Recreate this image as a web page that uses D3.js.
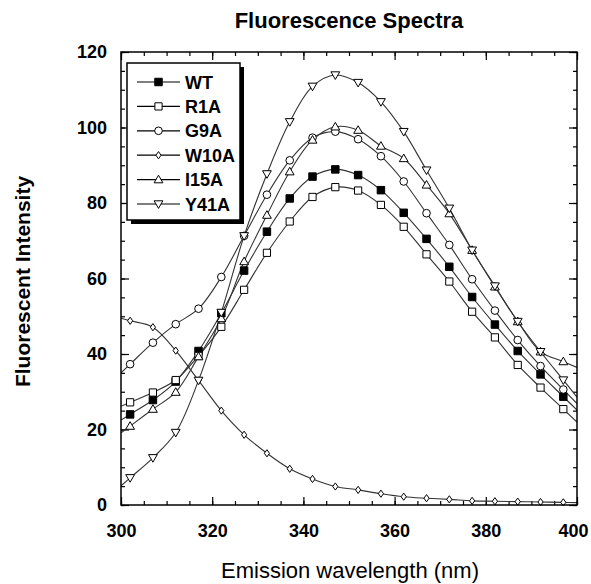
<!DOCTYPE html>
<html lang="en">
<head>
    <meta charset="UTF-8">
    <title>Fluorescence Spectra</title>
    <script src="https://d3js.org/d3.v7.min.js"></script>
    <style>
        body { margin: 0; background: #fff; }
        text { font-family: "Liberation Sans", Arial, sans-serif; }
    </style>
</head>
<body>
    <svg width="591" height="584"></svg>

    <script>
        // data (emission wavelength in nm)
        const wavelengths = [302, 307, 312, 317, 322, 327, 332, 337, 342, 347, 352, 357, 362, 367, 372, 377, 382, 387, 392, 397];
        const wt   = [24.0, 27.8, 32.7, 40.8, 50.8, 62.1, 72.4, 81.2, 87.0, 88.9, 87.4, 83.4, 77.4, 70.5, 63.1, 55.1, 47.8, 40.8, 34.6, 28.7];
        const r1a  = [27.2, 29.8, 33.1, 39.5, 47.2, 57.0, 66.8, 75.1, 81.6, 84.2, 83.3, 79.5, 73.7, 66.4, 59.2, 51.2, 44.4, 37.1, 31.1, 25.4];
        const g9a  = [37.3, 43.0, 47.9, 52.0, 60.4, 71.3, 82.2, 91.3, 97.3, 98.9, 96.9, 92.4, 85.7, 77.3, 68.9, 59.8, 51.5, 43.7, 36.8, 30.6];
        const w10a = [48.8, 47.1, 40.9, 33.0, 25.0, 18.6, 13.7, 9.6, 6.9, 4.9, 4.0, 3.0, 2.2, 1.8, 1.5, 1.1, 1.0, 0.9, 0.8, 0.7];
        const i15a = [20.9, 25.4, 29.9, 39.3, 49.4, 64.5, 76.8, 88.3, 96.7, 100.2, 99.3, 95.1, 91.8, 84.8, 77.2, 67.5, 57.8, 48.6, 40.6, 38.0];
        const y41a = [7.2, 12.5, 19.2, 33.0, 51.0, 71.3, 87.7, 101.5, 110.9, 113.9, 111.9, 106.8, 98.9, 88.7, 78.6, 67.5, 58.0, 48.6, 40.6, 33.1];

        const seriesNames = ["WT", "R1A", "G9A", "W10A", "I15A", "Y41A"];
        const seriesValues = [wt, r1a, g9a, w10a, i15a, y41a];

        const xTicks = [300, 320, 340, 360, 380, 400];
        const yTicks = [0, 20, 40, 60, 80, 100, 120];

        const svg = d3.select("svg");
        const margin = {left: 121, right: 14, top: 52, bottom: 79};
        const width = +svg.attr("width");
        const height = +svg.attr("height");
        const plotW = width - margin.left - margin.right;
        const plotH = height - margin.top - margin.bottom;

        const x = d3.scaleLinear().domain([300, 400]).range([0, plotW]);
        const y = d3.scaleLinear().domain([0, 120]).range([plotH, 0]);

        const g = svg.append("g").attr("transform", `translate(${margin.left},${margin.top})`);

        // marker shapes
        const diamond = {draw(ctx, size) { ctx.moveTo(0, -3.6); ctx.lineTo(2.6, 0); ctx.lineTo(0, 3.6); ctx.lineTo(-2.6, 0); ctx.closePath(); }};
        const triDown = {draw(ctx, size) { ctx.moveTo(-4.4, -3.2); ctx.lineTo(4.4, -3.2); ctx.lineTo(0, 4.4); ctx.closePath(); }};
        const triUp = {draw(ctx, size) { ctx.moveTo(0, -4.4); ctx.lineTo(4.4, 3.2); ctx.lineTo(-4.4, 3.2); ctx.closePath(); }};
        const markers = [
            {type: d3.symbolSquare, size: 56, fill: "#000"},
            {type: d3.symbolSquare, size: 52, fill: "#fff"},
            {type: d3.symbolCircle, size: 46, fill: "#fff"},
            {type: diamond, size: 1, fill: "#fff"},
            {type: triUp, size: 1, fill: "#fff"},
            {type: triDown, size: 1, fill: "#fff"}
        ];

        // ticks: inward on all four sides
        const minorX = d3.range(300, 401, 5);
        const minorY = d3.range(0, 121, 5);

        g.append("g").attr("transform", `translate(0,${plotH})`)
            .call(d3.axisBottom(x).tickValues(minorX).tickSize(-4).tickFormat(""));
        const xAxisG = g.append("g").attr("transform", `translate(0,${plotH})`)
            .call(d3.axisBottom(x).tickValues(xTicks).tickSize(-8).tickPadding(19).tickFormat(d3.format("d")));
        // last label sits against the page edge, pull it in a little
        xAxisG.selectAll(".tick text").filter(d => d === 400).attr("dx", -4);
        g.append("g").call(d3.axisTop(x).tickValues(minorX).tickSize(-4).tickFormat(""));
        g.append("g").call(d3.axisTop(x).tickValues(xTicks).tickSize(-8).tickFormat(""));

        g.append("g").call(d3.axisLeft(y).tickValues(minorY).tickSize(-4).tickFormat(""));
        g.append("g").call(d3.axisLeft(y).tickValues(yTicks).tickSize(-8).tickPadding(14).tickFormat(d3.format("d")));
        g.append("g").attr("transform", `translate(${plotW},0)`)
            .call(d3.axisRight(y).tickValues(minorY).tickSize(-4).tickFormat(""));
        g.append("g").attr("transform", `translate(${plotW},0)`)
            .call(d3.axisRight(y).tickValues(yTicks).tickSize(-8).tickFormat(""));

        g.selectAll(".domain").remove();
        g.selectAll(".tick line").attr("stroke", "#000").attr("stroke-width", 1.2);
        g.selectAll(".tick text")
            .attr("font-family", "'Liberation Sans', Arial, sans-serif")
            .attr("font-size", 18).attr("font-weight", "bold").attr("fill", "#000");

        // clip so the extended curves stop at the frame
        svg.append("defs").append("clipPath").attr("id", "plot-clip")
            .append("rect").attr("width", plotW).attr("height", plotH);

        const line = d3.line()
            .x(d => x(d[0]))
            .y(d => y(d[1]))
            .curve(d3.curveCatmullRom.alpha(0.5));

        // curves run on to the frame edges like the original plot
        function extendToEdges(pts) {
            const n = pts.length;
            const a = pts[0], b = pts[1];
            const c = pts[n - 2], d = pts[n - 1];
            const left = [300, a[1] - (b[1] - a[1]) * (a[0] - 300) / (b[0] - a[0])];
            const right = [400, d[1] + (d[1] - c[1]) * (400 - d[0]) / (d[0] - c[0])];
            return [left, ...pts, right];
        }

        const curves = g.append("g").attr("clip-path", "url(#plot-clip)");
        seriesValues.forEach((vals, i) => {
            const pts = wavelengths.map((w, j) => [w, vals[j]]);
            curves.append("path")
                .attr("d", line(extendToEdges(pts)))
                .attr("fill", "none")
                .attr("stroke", "#333")
                .attr("stroke-width", 1.1);
        });

        seriesValues.forEach((vals, i) => {
            const m = markers[i];
            g.append("g").selectAll("path")
                .data(wavelengths.map((w, j) => [w, vals[j]]))
                .join("path")
                .attr("transform", d => `translate(${x(d[0])},${y(d[1])})`)
                .attr("d", d3.symbol().type(m.type).size(m.size))
                .attr("fill", m.fill)
                .attr("stroke", "#000")
                .attr("stroke-width", 1);
        });

        // frame
        g.append("rect")
            .attr("width", plotW).attr("height", plotH)
            .attr("fill", "none").attr("stroke", "#000").attr("stroke-width", 1.5);

        // legend with drop shadow
        const legend = svg.append("g").attr("transform", "translate(127,63)");
        legend.append("rect").attr("x", 4).attr("y", 4).attr("width", 113).attr("height", 157).attr("fill", "#000");
        legend.append("rect").attr("width", 113).attr("height", 157)
            .attr("fill", "#fff").attr("stroke", "#000").attr("stroke-width", 1.5);

        seriesNames.forEach((name, i) => {
            const row = legend.append("g").attr("transform", `translate(0,${19 + i * 24.4})`);
            row.append("line").attr("x1", 10).attr("x2", 53)
                .attr("stroke", "#000").attr("stroke-width", 1.2);
            row.append("path")
                .attr("transform", "translate(31.5,0)")
                .attr("d", d3.symbol().type(markers[i].type).size(markers[i].size))
                .attr("fill", markers[i].fill).attr("stroke", "#000");
            row.append("text").attr("x", 58).attr("y", 6.5)
                .attr("font-size", 18).attr("font-weight", "bold")
                .text(name);
        });

        // titles
        svg.append("text")
            .attr("x", margin.left + plotW / 2).attr("y", 28)
            .attr("text-anchor", "middle")
            .attr("font-size", 22).attr("font-weight", "bold")
            .text("Fluorescence Spectra");

        svg.append("text")
            .attr("transform", `translate(30,${margin.top + plotH / 2 + 3}) rotate(-90)`)
            .attr("text-anchor", "middle")
            .attr("font-size", 21).attr("font-weight", "bold")
            .text("Fluorescent Intensity");

        svg.append("text")
            .attr("x", margin.left + plotW / 2 + 1).attr("y", 578)
            .attr("text-anchor", "middle")
            .attr("font-size", 22)
            .text("Emission wavelength (nm)");
    </script>
</body>
</html>
